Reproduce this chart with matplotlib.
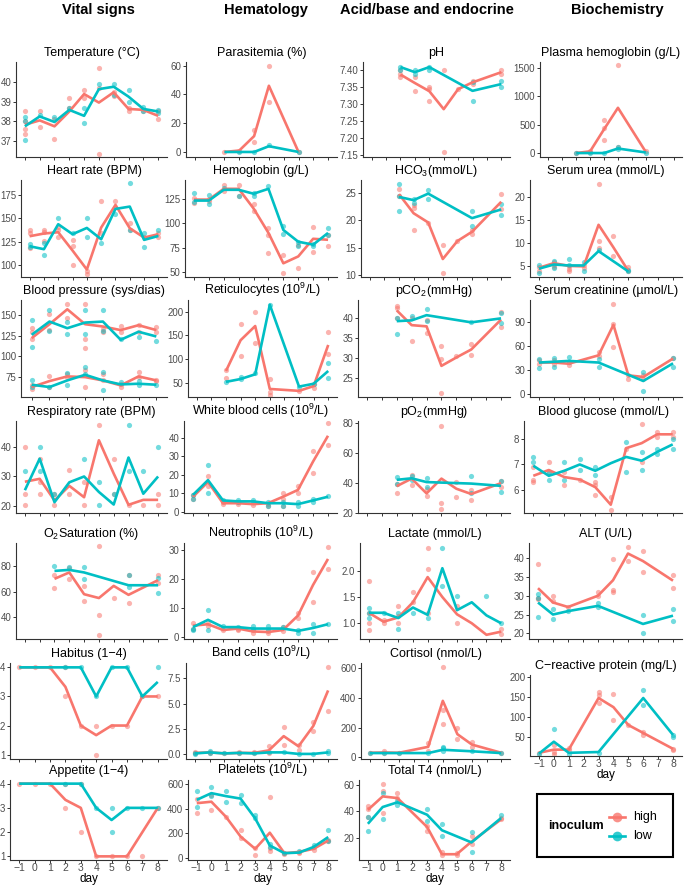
import matplotlib
matplotlib.use("Agg")
import matplotlib.pyplot as plt
from matplotlib.patches import Rectangle
from matplotlib.lines import Line2D

plt.rcParams['font.family'] = ['Liberation Sans', 'DejaVu Sans']
plt.rcParams['mathtext.fontset'] = 'custom'
plt.rcParams['mathtext.rm'] = 'Liberation Sans'
plt.rcParams['mathtext.it'] = 'Liberation Sans:italic'
plt.rcParams['mathtext.bf'] = 'Liberation Sans:bold'

RED = '#F8766D'
CYAN = '#00BFC4'
N = None

DAYS = [-1, 0, 1, 2, 3, 4, 5, 6, 7, 8]
BP_DAYS = [0, 1, 2, 3, 4, 5, 6, 7]

# ---------------- Vital signs ----------------
TEMP_HI = [37.83, 38.05, 37.75, 38.5, 39.38, 38.95, 39.47, 38.63, 38.58, 38.28]
TEMP_LO = [37.75, 38.25, 37.97, 38.58, 38.28, 39.63, 39.75, 39.25, 38.63, 38.5]
TEMP_HI_PTS = [(-1, 38.5), (-1, 38.03), (-1, 37.6), (-1, 37.37), (0, 38.5), (0, 37.7), (1, 38.1), (1, 37.1),
               (2, 39.17), (2, 38.7), (3, 39.6), (3, 39.17), (4, 40.7), (4, 39.7), (4, 36.37), (5, 39.5),
               (5, 39.3), (6, 38.7), (6, 38.5), (7, 38.5), (8, 38.5), (8, 38.1)]
TEMP_LO_PTS = [(-1, 38.2), (-1, 38.0), (-1, 37.08), (0, 38.3), (1, 38.2), (2, 38.7), (3, 38.7), (3, 37.9),
               (4, 39.9), (5, 39.9), (5, 39.33), (6, 39.6), (6, 39.0), (7, 38.75), (7, 38.5), (8, 38.6), (8, 38.4)]

HR_HI = [130.7, 133.6, 135, 115.4, 95, 140, 164.3, 139.3, 129.3, 132.9]
HR_LO = [120, 116.8, 143.6, 132.9, 139.6, 127.5, 160, 162.5, 126.8, 131]
HR_HI_PTS = [(-1, 137.5), (-1, 134), (-1, 118.6), (0, 137.5), (0, 135), (0, 126), (1, 141), (1, 137.5),
             (1, 130.4), (2, 126.8), (2, 120), (2, 100), (3, 92.9), (3, 90), (4, 168), (4, 134), (5, 168),
             (6, 144.6), (6, 137.5), (7, 130), (8, 129.6), (8, 134)]
HR_LO_PTS = [(-1, 122.5), (-1, 119), (0, 123), (0, 110.7), (1, 150), (2, 134), (3, 150), (3, 130.4),
             (4, 123), (5, 155), (6, 188), (6, 137.5), (7, 134), (7, 119), (8, 137.5)]

BP_SYS_HI = [122, 138.8, 156.8, 138.8, 136, 131.7, 137.6, 131.7]
BP_SYS_LO = [126, 142, 134, 140.8, 142, 120, 129.7, 124]
BP_DIA_HI = [63, 70.2, 75.8, 75, 71, 65, 75.8, 71]
BP_DIA_LO = [65.8, 63, 71, 77.8, 71, 66.2, 67, 65.8]
BP_HI_PTS = [(0, 133.7), (0, 129), (0, 121), (1, 150.8), (1, 131.7), (2, 162.7), (2, 146.8), (3, 162.7),
             (3, 121), (3, 110), (4, 132.9), (4, 129.7), (5, 136.9), (5, 129), (6, 137.6), (6, 129),
             (7, 134.9), (7, 129),
             (0, 61), (0, 65), (1, 75.8), (1, 63), (2, 79), (2, 75), (3, 83), (3, 63), (4, 79), (4, 71.8),
             (5, 67), (5, 63), (6, 81), (6, 75), (7, 71.8), (7, 69.8)]
BP_LO_PTS = [(0, 143.6), (0, 111.8), (1, 155.6), (1, 130.1), (2, 142), (2, 126.9), (3, 155.6), (3, 126.9),
             (4, 155.6), (4, 130.9), (5, 121), (6, 122.9), (7, 118.9),
             (0, 71), (0, 63), (1, 63), (2, 79.8), (2, 65), (3, 87.7), (3, 79), (4, 81), (4, 59.9),
             (5, 69), (6, 65), (6, 70.2), (7, 65)]

RESP_HI = [28.2, 29.2, 21.8, 26.8, 22.9, 42.4, 31, 20.3, 22, 22]
RESP_LO = [25.3, 36.1, 21.2, 28, 30, 24.7, 20.4, 36.5, 24.1, 30]
RESP_HI_PTS = [(-1, 40), (-1, 24.1), (-1, 20.4), (0, 36.1), (0, 28), (0, 24.1), (1, 20.4), (1, 24.1),
               (2, 32.2), (2, 24.1), (3, 28), (3, 20.4), (4, 47.6), (5, 36), (5, 24.1), (6, 20.4),
               (7, 20.4), (8, 24.1), (8, 20.4)]
RESP_LO_PTS = [(-1, 32), (0, 40), (0, 32), (1, 24.1), (3, 35.9), (4, 28), (4, 20.4), (5, 16.2), (5, 24.1),
               (6, 47.6), (6, 32), (7, 32), (7, 16.2), (8, 40)]

O2_HI = [N, N, 70, 75, 58, 55, 64.5, 57.5, N, 69]
O2_LO = [N, N, 76.2, 77, 75, N, N, 65, N, 65]
O2_HI_PTS = [(1, 72.7), (1, 62.6), (2, 78.5), (2, 70), (3, 64.5), (3, 53), (4, 96), (4, 42), (4, 26),
             (5, 55), (6, 72.7), (6, 51), (8, 73), (8, 67)]
O2_LO_PTS = [(1, 79.7), (2, 79), (3, 79), (3, 70), (6, 72.7), (6, 64), (8, 59), (8, 71)]

HAB_HI = [4, 4, 4, 3.33, 2, 1.67, 2, 2, 3, 3]
HAB_LO = [4, 4, 4, 4, 4, 3, 4, 4, 3, 3.5]
HAB_HI_PTS = [(-1, 4), (0, 4), (1, 4), (2, 4), (2, 3), (3, 2), (4, 2), (4, 1), (5, 2), (6, 2), (7, 3), (8, 3)]
HAB_LO_PTS = [(2, 4), (3, 4), (4, 3), (5, 4), (6, 4), (7, 3), (8, 4)]

APP_HI = [4, 4, 4, 3.33, 3, 1, 1, 1, 2, 3]
APP_LO = [4, 4, 4, 4, 4, 3, 2.5, 3, 3, 3]
APP_HI_PTS = [(-1, 4), (0, 4), (1, 4), (2, 4), (2, 3), (3, 2), (3, 4), (4, 1), (5, 1), (6, 1), (7, 1), (8, 3)]
APP_LO_PTS = [(2, 4), (3, 4), (4, 3), (5, 3), (5, 2), (6, 3), (7, 3), (8, 3)]

# ---------------- Hematology ----------------
PARA_HI = [N, N, 0, 1, 11, 46, N, 0, N, N]
PARA_LO = [N, N, 0, 0, 0, 4, N, 0, N, N]
PARA_HI_PTS = [(1, 0), (2, 0.5), (3, 15), (3, 7), (4, 60), (4, 35), (6, 0)]
PARA_LO_PTS = [(2, 0), (3, 0), (4, 4.5), (6, 0)]

HGB_HI = [124, 124, 135, 135, 115, 90, 59, 66, 84, 83]
HGB_LO = [123, 123, 134, 134, 130, 135, 93, 81, 78, 90]
HGB_HI_PTS = [(-1, 126), (-1, 121), (0, 125), (0, 123), (1, 139), (1, 133), (2, 139), (2, 128), (3, 120),
              (3, 112), (4, 95), (4, 88), (4, 70), (5, 67), (5, 49), (6, 54), (6, 78), (7, 96), (7, 71),
              (8, 88), (8, 77)]
HGB_LO_PTS = [(-1, 131), (-1, 122), (0, 129), (0, 120), (1, 136), (2, 128), (3, 128), (3, 131), (4, 138),
              (5, 97), (5, 89), (6, 81), (6, 77), (7, 79), (7, 77), (8, 95), (8, 88)]

RET_HI = [N, N, 75, 140, 170, 37, N, 33, 43, 130]
RET_LO = [N, N, 52, 58, 68, 215, N, 42, 48, 75]
RET_HI_PTS = [(1, 78), (1, 60), (2, 175), (2, 107), (3, 200), (3, 135), (4, 57), (4, 30), (4, 25), (6, 33),
              (7, 40), (7, 47), (8, 157), (8, 110)]
RET_LO_PTS = [(1, 52), (2, 62), (2, 57), (3, 70), (4, 215), (6, 42), (7, 48), (8, 92), (8, 60)]

WBC_HI = [8, 16, 4.5, 4.5, 4, 4.5, 8, 11.7, 27, 41]
WBC_LO = [9, 17, 6, 5.5, 5.5, 4.5, 4.5, 4, 6, 8]
WBC_HI_PTS = [(-1, 7), (-1, 9), (0, 19), (0, 14), (1, 4), (1, 5), (2, 5), (2, 4), (3, 3.5), (4, 4), (4, 3),
              (5, 10), (5, 7), (5, 3), (6, 14), (6, 10), (7, 33), (7, 21), (8, 48), (8, 36)]
WBC_LO_PTS = [(-1, 9), (-1, 7), (0, 25), (0, 10), (1, 6), (2, 6), (2, 5), (3, 6), (3, 5), (4, 5), (4, 3),
              (5, 5), (5, 3), (6, 5), (6, 3), (7, 7), (7, 5), (8, 8.5)]

NEU_HI = [4, 4.5, 2.5, 3, 2, 1.8, 2.5, 7.5, 18, 27]
NEU_LO = [3.5, 6, 3.5, 3.5, 3, 3, 3, 2.2, 3.2, 4.5]
NEU_HI_PTS = [(-1, 5), (-1, 3), (0, 5), (0, 4), (1, 2.5), (2, 3), (2, 2.5), (3, 2.5), (3, 1.5), (4, 2),
              (4, 1.5), (5, 3.5), (5, 2), (6, 8.5), (6, 6.5), (7, 22.5), (7, 12), (8, 31), (8, 23.5)]
NEU_LO_PTS = [(-1, 3), (-1, 2.5), (0, 9.5), (0, 2.5), (1, 4), (2, 3.5), (3, 4), (3, 3), (4, 4), (4, 2.5),
              (5, 3.5), (6, 2.5), (6, 1.5), (7, 4.5), (7, 1.5), (8, 4.5)]

BAND_HI = [0.15, 0.2, 0.1, 0.15, 0.15, 0.4, 1.8, 0.8, 2.8, 6.3]
BAND_LO = [0.1, 0.2, 0.1, 0.15, 0.1, 0.2, 0.2, 0.05, 0.05, 0.2]
BAND_HI_PTS = [(-1, 0.2), (-1, 0.1), (0, 0.25), (0, 0.15), (1, 0.1), (2, 0.2), (2, 0.1), (3, 0.2), (3, 0.1),
               (4, 0.8), (4, 0.1), (5, 2.7), (5, 0.9), (6, 0.9), (6, 0.4), (7, 3.2), (7, 2.3), (8, 8.6),
               (8, 4.3)]
BAND_LO_PTS = [(-1, 0.15), (-1, 0.05), (0, 0.3), (0, 0.1), (1, 0.1), (2, 0.15), (3, 0.1), (4, 0.2),
               (5, 0.25), (6, 0.05), (7, 0.05), (8, 0.3), (8, 0.1)]

PLT_HI = [443, 455, 333, 174, 75, 205, 40, 50, 75, 142]
PLT_LO = [470, 524, 500, 480, 320, 102, 40, 45, 90, 170]
PLT_HI_PTS = [(-1, 480), (-1, 365), (0, 510), (0, 385), (1, 330), (2, 230), (2, 160), (3, 80), (3, 25),
              (4, 495), (4, 80), (4, 55), (5, 30), (5, 40), (6, 50), (6, 40), (7, 90), (7, 65), (8, 150),
              (8, 135)]
PLT_LO_PTS = [(-1, 540), (-1, 410), (0, 575), (0, 505), (1, 540), (1, 450), (2, 510), (2, 445), (3, 350),
              (3, 320), (4, 110), (4, 90), (5, 45), (6, 55), (7, 105), (8, 225), (8, 140)]

# ---------------- Acid/base and endocrine ----------------
PH_HI = [N, N, 7.388, 7.363, 7.339, 7.286, 7.345, 7.365, N, 7.395]
PH_LO = [N, N, 7.41, 7.395, 7.41, N, N, 7.34, N, 7.36]
PH_HI_PTS = [(1, 7.40), (1, 7.39), (1, 7.38), (2, 7.38), (2, 7.34), (3, 7.35), (3, 7.345), (3, 7.31),
             (4, 7.40), (4, 7.16), (5, 7.345), (6, 7.37), (6, 7.36), (8, 7.40), (8, 7.39)]
PH_LO_PTS = [(1, 7.41), (1, 7.40), (2, 7.40), (2, 7.39), (3, 7.41), (3, 7.40), (6, 7.365), (6, 7.31),
             (8, 7.37), (8, 7.35)]

HCO3_HI = [N, N, 24.8, 21.3, 19.6, 12.9, 16.2, 17.9, N, 23.4]
HCO3_LO = [N, N, 24.3, 23.7, 24.9, N, N, 20.4, N, 22.0]
HCO3_HI_PTS = [(1, 25.8), (1, 24.5), (2, 22.9), (2, 22.3), (2, 18.2), (3, 19.5), (4, 15.4), (4, 10.4),
               (5, 16.2), (6, 18.3), (6, 17.4), (8, 24.9), (8, 22.1)]
HCO3_LO_PTS = [(1, 26.6), (1, 24.4), (1, 21.7), (2, 24.0), (2, 23.2), (3, 25.6), (3, 24.0), (6, 21.7),
               (6, 19.0), (8, 23.0), (8, 20.9)]

PCO2_HI = [N, N, 42, 38.3, 38, 28.1, 30.2, 32.2, N, 39.7]
PCO2_LO = [N, N, 39.3, 39.5, 40.8, N, N, 39, N, 40]
PCO2_HI_PTS = [(1, 43.2), (1, 42.5), (1, 40), (2, 40), (2, 34.3), (3, 39.6), (3, 36.4), (4, 33.1),
               (4, 29.8), (4, 21.2), (5, 30.5), (6, 33.5), (6, 30.7), (8, 41.7), (8, 37.8)]
PCO2_LO_PTS = [(1, 36), (1, 40), (2, 40.5), (3, 42.3), (3, 39.3), (6, 39), (8, 41.3), (8, 38.8)]

PO2_HI = [N, N, 37.8, 42.8, 33, 42.8, 36.1, 32.6, N, 39.8]
PO2_LO = [N, N, 42, 43, 40.5, N, N, 39.5, N, 38]
PO2_HI_PTS = [(1, 39.5), (1, 33.5), (2, 45), (2, 38.7), (3, 36), (3, 31.5), (4, 77.7), (4, 26.7),
              (4, 22.5), (5, 40.3), (5, 30.5), (6, 35), (6, 28.3), (8, 41.5), (8, 37.5)]
PO2_LO_PTS = [(1, 44), (1, 39), (2, 44.5), (2, 42), (3, 43), (3, 37.4), (6, 44.3), (6, 33), (8, 41), (8, 34)]

LAC_HI = [1.2, 1.03, 1.11, 1.4, 1.88, 1.5, 1.17, 1.0, 0.78, 0.84]
LAC_LO = [1.2, 1.2, 1.1, 1.3, 1.16, 2.05, 1.25, 1.4, 1.15, 1.0]
LAC_HI_PTS = [(-1, 1.81), (-1, 1.2), (-1, 1.0), (-1, 0.88), (0, 1.06), (0, 1.0), (1, 1.32), (1, 1.13),
              (1, 1.0), (2, 1.6), (2, 1.4), (3, 2.43), (3, 2.03), (3, 1.19), (5, 1.32), (5, 1.0), (8, 0.9),
              (8, 0.8)]
LAC_LO_PTS = [(-1, 1.3), (-1, 1.2), (-1, 1.1), (0, 1.19), (1, 1.2), (1, 0.9), (2, 1.2), (3, 1.1), (4, 2.43),
              (4, 1.71), (5, 1.52), (7, 1.52), (8, 1.0)]

COR_HI = [30, 32, 30, N, 70, 380, 155, 85, N, 30]
COR_LO = [28, 28, 28, N, 28, 50, N, 40, N, 28]
COR_HI_PTS = [(-1, 30), (0, 45), (0, 30), (1, 30), (3, 45), (3, 95), (4, 610), (4, 320), (4, 225),
              (5, 200), (5, 120), (6, 105), (6, 70), (8, 30)]
COR_LO_PTS = [(-1, 28), (0, 30), (1, 30), (3, 28), (4, 70), (4, 60), (4, 40), (6, 40), (8, 28)]

T4_HI = [41.2, 51.5, 50.2, N, 28.2, 7.4, 7.4, 17, N, 34]
T4_LO = [30.6, 43.4, 47, N, 37.5, 25.7, N, 16.4, N, 35]
T4_HI_PTS = [(-1, 44.5), (-1, 42), (-1, 36), (0, 61), (0, 55.5), (0, 38.5), (1, 54), (1, 50.5), (3, 29),
             (3, 25), (4, 9), (4, 6.5), (5, 8.5), (5, 6.5), (6, 21), (6, 15), (8, 35), (8, 34)]
T4_LO_PTS = [(-1, 36), (-1, 25), (0, 54), (0, 34), (1, 48), (1, 45), (3, 42), (3, 32.5), (4, 30.5),
             (4, 21.5), (6, 24.5), (6, 9), (8, 37)]

# ---------------- Biochemistry ----------------
PHB_HI = [N, N, 0, 30, 420, 800, N, 20, N, N]
PHB_LO = [N, N, 0, 0, 0, 80, N, 10, N, N]
PHB_HI_PTS = [(1, 0), (2, 30), (2, 20), (3, 580), (3, 450), (3, 230), (4, 1550), (4, 110), (6, 30)]
PHB_LO_PTS = [(1, 0), (2, 0), (3, 0), (4, 100), (4, 70), (6, 0)]

UREA_HI = [4.6, 5.6, 5.0, 4.9, 13.9, 9.0, 3.9, N, N, N]
UREA_LO = [4.4, 5.3, 5.1, 5.1, 8.2, N, 3.8, N, N, N]
UREA_HI_PTS = [(-1, 4.7), (-1, 4.0), (0, 5.8), (0, 5.3), (0, 4.8), (1, 5.0), (1, 4.3), (1, 3.8), (2, 5.2),
               (2, 4.5), (3, 22.7), (3, 10.3), (3, 8.8), (4, 11.5), (4, 7.1), (5, 4.8), (5, 3.8)]
UREA_LO_PTS = [(-1, 5.3), (-1, 3.4), (0, 6.0), (0, 4.5), (1, 6.5), (1, 5.3), (2, 5.8), (2, 4.0), (3, 8.5),
               (5, 3.9), (5, 4.2)]

CRE_HI = [39, 39, 37.5, N, 48, 86, 23, 21, N, 44]
CRE_LO = [39, 40, 41, N, 39, N, N, 16, N, 38]
CRE_HI_PTS = [(-1, 42), (-1, 37), (0, 42), (0, 37), (1, 40), (1, 36), (3, 52), (3, 47), (4, 112), (4, 87),
              (4, 58), (5, 24), (5, 18), (6, 23), (6, 19), (8, 45)]
CRE_LO_PTS = [(-1, 43), (-1, 32), (0, 45), (0, 33), (1, 46), (1, 40), (3, 44), (3, 34), (6, 27), (6, 3),
              (8, 45), (8, 33)]

GLU_HI = [6.55, 6.78, 6.5, 6.4, 6.1, 5.4, 7.65, 7.85, 8.2, 8.2]
GLU_LO = [6.95, 6.55, 6.75, 7.0, 6.75, 7.05, 7.3, 7.15, 7.5, 7.8]
GLU_HI_PTS = [(-1, 6.9), (-1, 6.4), (-1, 6.3), (0, 7.1), (0, 6.7), (1, 6.7), (1, 6.2), (2, 6.4), (3, 6.3),
              (3, 6.2), (3, 5.8), (4, 5.7), (4, 5.2), (5, 7.6), (6, 8.6), (6, 7.1), (7, 8.3), (7, 8.1),
              (8, 8.3), (8, 8.1)]
GLU_LO_PTS = [(-1, 7.3), (-1, 7.1), (0, 6.4), (0, 6.7), (1, 7.1), (1, 6.4), (2, 7.2), (2, 6.8), (3, 6.9),
              (3, 6.6), (5, 7.9), (5, 6.7), (6, 7.5), (6, 6.8), (7, 7.6), (7, 7.4), (8, 8.0), (8, 7.6)]

ALT_HI = [32, 28.2, 27, N, 30, 34.1, 41.2, 39.2, N, 34]
ALT_LO = [28.2, 25, 25.9, N, 27.3, N, N, 22.5, N, 24.7]
ALT_HI_PTS = [(-1, 38.3), (-1, 29.5), (-1, 29), (0, 30), (0, 28.5), (1, 27), (3, 31), (3, 30), (4, 39.7),
              (4, 31.5), (4, 31), (5, 43), (5, 39.3), (6, 42), (6, 36.3), (8, 35.5), (8, 32)]
ALT_LO_PTS = [(-1, 30.5), (-1, 29.5), (-1, 24.3), (0, 26.5), (0, 23.8), (1, 26), (3, 28), (3, 27),
              (6, 25), (6, 20), (8, 26.5), (8, 23.3)]

CRP_HI = [10, 18, 18, N, 148, 125, 80, 60, N, 20]
CRP_LO = [8, 38, 10, N, 12, N, N, 148, N, 55]
CRP_HI_PTS = [(-1, 10), (0, 30), (0, 12), (0, 8), (1, 22), (1, 18), (3, 162), (3, 155), (3, 135), (4, 158),
              (4, 92), (5, 80), (6, 62), (6, 55), (8, 20), (8, 17)]
CRP_LO_PTS = [(-1, 8), (0, 70), (1, 8), (3, 10), (6, 167), (6, 130), (8, 55), (8, 50)]

COLUMN_HEADERS = ["Vital signs", "Hematology", "Acid/base and endocrine", "Biochemistry"]
X_TICK_LABELS = ["\u22121", "0", "1", "2", "3", "4", "5", "6", "7", "8"]

# ---------------- layout (pixels) ----------------
W, H = 685, 889
fig = plt.figure(figsize=(W / 100, H / 100), dpi=100)

COL_RIGHT = [167, 337, 510, 682]
ROW_TOP = [62, 180, 300, 421, 543, 663, 780]
ROW_BOT = [157, 277, 397, 513, 639, 759, 860]


def add_ax(left, top, right, bottom):
    return fig.add_axes([left / W, 1 - bottom / H, (right - left) / W, (bottom - top) / H])


def series(days, vals):
    xs = [d for d, v in zip(days, vals) if v is not None]
    ys = [v for v in vals if v is not None]
    return xs, ys


def draw_panel(ax, title, lines_hi, lines_lo, pts_hi, pts_lo, yticks, ylabels, ylim,
               days=DAYS, xlim=(-1.6, 8.6), xlabels=False):
    for pts, col in ((pts_hi, RED), (pts_lo, CYAN)):
        ax.scatter([p[0] for p in pts], [p[1] for p in pts], s=14, color=col, alpha=0.55,
                   linewidths=0, zorder=2)
    for lines, col in ((lines_hi, RED), (lines_lo, CYAN)):
        for vals in lines:
            xs, ys = series(days, vals)
            ax.plot(xs, ys, color=col, lw=1.9, solid_capstyle='butt', zorder=3)
    ax.set_xlim(*xlim)
    ax.set_ylim(*ylim)
    ax.set_xticks(days)
    ax.set_yticks(yticks)
    ax.set_yticklabels(ylabels)
    if xlabels:
        ax.set_xticklabels(X_TICK_LABELS)
        ax.set_xlabel('day', fontsize=8.5, labelpad=0)
    else:
        ax.set_xticklabels([])
    for s in ('top', 'right'):
        ax.spines[s].set_visible(False)
    for s in ('left', 'bottom'):
        ax.spines[s].set_color('#333333')
        ax.spines[s].set_linewidth(0.8)
    ax.tick_params(axis='y', length=2.2, width=0.7, color='#333333', labelsize=7,
                   labelcolor='#4D4D4D', pad=1.2)
    ax.tick_params(axis='x', length=2.0, width=0.7, color='#333333', labelsize=7.5,
                   labelcolor='#4D4D4D', pad=0.5)
    ax.set_title(title, fontsize=9, pad=4)


def ticks(vals, fmt="{:g}"):
    return vals, [fmt.format(v) for v in vals]


panels = [
    # col 0
    (0, 0, 16, "Temperature (\u00b0C)", [TEMP_HI], [TEMP_LO], TEMP_HI_PTS, TEMP_LO_PTS, ticks([37, 38, 39, 40]), (36.2, 41.0)),
    (0, 1, 21, "Heart rate (BPM)", [HR_HI], [HR_LO], HR_HI_PTS, HR_LO_PTS, ticks([100, 125, 150, 175]), (87, 191)),
    (0, 2, 21, "Blood pressure (sys/dias)", [BP_SYS_HI, BP_DIA_HI], [BP_SYS_LO, BP_DIA_LO], BP_HI_PTS, BP_LO_PTS, ticks([75, 100, 125, 150]), (51, 168)),
    (0, 3, 16, "Respiratory rate (BPM)", [RESP_HI], [RESP_LO], RESP_HI_PTS, RESP_LO_PTS, ticks([20, 30, 40]), (17.5, 49)),
    (0, 4, 16, "O$_\\mathregular{2}$Saturation (%)", [O2_HI], [O2_LO], O2_HI_PTS, O2_LO_PTS, ticks([40, 60, 80]), (23, 98)),
    (0, 5, 10, "Habitus (1\u22124)", [HAB_HI], [HAB_LO], HAB_HI_PTS, HAB_LO_PTS, ticks([1, 2, 3, 4]), (0.85, 4.15)),
    (0, 6, 10, "Appetite (1\u22124)", [APP_HI], [APP_LO], APP_HI_PTS, APP_LO_PTS, ticks([1, 2, 3, 4]), (0.85, 4.15)),
    # col 1
    (1, 0, 186, "Parasitemia (%)", [PARA_HI], [PARA_LO], PARA_HI_PTS, PARA_LO_PTS, ticks([0, 20, 40, 60]), (-3.5, 62.5)),
    (1, 1, 185, "Hemoglobin (g/L)", [HGB_HI], [HGB_LO], HGB_HI_PTS, HGB_LO_PTS, ticks([50, 75, 100, 125]), (45, 144)),
    (1, 2, 188, "Reticulocytes (10$^\\mathregular{9}$/L)", [RET_HI], [RET_LO], RET_HI_PTS, RET_LO_PTS, ticks([50, 100, 150, 200]), (20, 225)),
    (1, 3, 184, "White blood cells (10$^\\mathregular{9}$/L)", [WBC_HI], [WBC_LO], WBC_HI_PTS, WBC_LO_PTS, ticks([0, 10, 20, 30, 40]), (-0.8, 49)),
    (1, 4, 184, "Neutrophils (10$^\\mathregular{9}$/L)", [NEU_HI], [NEU_LO], NEU_HI_PTS, NEU_LO_PTS, ticks([0, 10, 20, 30]), (-0.6, 32.5)),
    (1, 5, 186, "Band cells (10$^\\mathregular{9}$/L)", [BAND_HI], [BAND_LO], BAND_HI_PTS, BAND_LO_PTS, ticks([0, 2.5, 5.0, 7.5], "{:.1f}"), (-0.45, 9.0)),
    (1, 6, 188, "Platelets (10$^\\mathregular{9}$/L)", [PLT_HI], [PLT_LO], PLT_HI_PTS, PLT_LO_PTS, ticks([0, 200, 400, 600]), (-15, 630)),
    # col 2
    (2, 0, 363, "pH", [PH_HI], [PH_LO], PH_HI_PTS, PH_LO_PTS, ticks([7.15, 7.20, 7.25, 7.30, 7.35, 7.40], "{:.2f}"), (7.145, 7.425)),
    (2, 1, 361, "HCO$_\\mathregular{3}$(mmol/L)", [HCO3_HI], [HCO3_LO], HCO3_HI_PTS, HCO3_LO_PTS, ticks([10, 15, 20, 25]), (9.6, 27.4)),
    (2, 2, 358, "pCO$_\\mathregular{2}$(mmHg)", [PCO2_HI], [PCO2_LO], PCO2_HI_PTS, PCO2_LO_PTS, ticks([25, 30, 35, 40]), (20.3, 44.6)),
    (2, 3, 358, "pO$_\\mathregular{2}$(mmHg)", [PO2_HI], [PO2_LO], PO2_HI_PTS, PO2_LO_PTS, ticks([20, 40, 60, 80]), (20, 81)),
    (2, 4, 360, "Lactate (mmol/L)", [LAC_HI], [LAC_LO], LAC_HI_PTS, LAC_LO_PTS, ticks([1.0, 1.5, 2.0], "{:.1f}"), (0.7, 2.53)),
    (2, 5, 361, "Cortisol (nmol/L)", [COR_HI], [COR_LO], COR_HI_PTS, COR_LO_PTS, ticks([0, 200, 400, 600]), (-12, 635)),
    (2, 6, 359, "Total T4 (nmol/L)", [T4_HI], [T4_LO], T4_HI_PTS, T4_LO_PTS, ticks([20, 40, 60]), (3, 64)),
    # col 3
    (3, 0, 540, "Plasma hemoglobin (g/L)", [PHB_HI], [PHB_LO], PHB_HI_PTS, PHB_LO_PTS, ticks([0, 500, 1000, 1500]), (-70, 1610)),
    (3, 1, 530, "Serum urea (mmol/L)", [UREA_HI], [UREA_LO], UREA_HI_PTS, UREA_LO_PTS, ticks([5, 10, 15, 20]), (2.6, 23.6)),
    (3, 2, 530, "Serum creatinine (\u00b5mol/L)", [CRE_HI], [CRE_LO], CRE_HI_PTS, CRE_LO_PTS, ticks([0, 30, 60, 90]), (-4, 117)),
    (3, 3, 524, "Blood glucose (mmol/L)", [GLU_HI], [GLU_LO], GLU_HI_PTS, GLU_LO_PTS, ticks([6, 7, 8]), (5.07, 8.73)),
    (3, 4, 529, "ALT (U/L)", [ALT_HI], [ALT_LO], ALT_HI_PTS, ALT_LO_PTS, ticks([20, 25, 30, 35, 40]), (18.5, 44)),
    (3, 5, 530, "C\u2212reactive protein (mg/L)", [CRP_HI], [CRP_LO], CRP_HI_PTS, CRP_LO_PTS, ticks([50, 100, 150, 200]), (2, 206)),
]

for col, row, left, title, lh, ll, ph, pl, (yt, yl), ylim in panels:
    top, bot = ROW_TOP[row], ROW_BOT[row]
    if col == 3 and row == 5:
        top, bot = 675, 756
    ax = add_ax(left, top, COL_RIGHT[col], bot)
    bottom_panel = (row == 6) or (col == 3 and row == 5)
    if title.startswith("Blood pressure"):
        draw_panel(ax, title, lh, ll, ph, pl, yt, yl, ylim, days=BP_DAYS, xlim=(-0.6, 7.6))
    else:
        draw_panel(ax, title, lh, ll, ph, pl, yt, yl, ylim, xlabels=bottom_panel)

# column headers
for x, txt in zip([98, 266, 427, 617], COLUMN_HEADERS):
    fig.text(x / W, 1 - 10 / H, txt, ha='center', va='center', fontsize=10.5, fontweight='bold')

# legend
lax = fig.add_axes([0, 0, 1, 1], zorder=10)
lax.set_xlim(0, W)
lax.set_ylim(H, 0)
lax.axis('off')
lax.add_patch(Rectangle((537, 794), 136, 63, fill=False, edgecolor='black', lw=1.5))
lax.text(548, 826, "inoculum", fontsize=9, fontweight='bold', va='center', ha='left')
for yy, col, lab in ((817, RED, "high"), (836, CYAN, "low")):
    lax.add_line(Line2D([609, 625], [yy, yy], color=col, lw=1.9))
    lax.add_line(Line2D([617], [yy], color=col, marker='o', ms=7, alpha=0.8, markeredgewidth=0))
    lax.text(633, yy, lab, fontsize=9, va='center', ha='left')

fig.savefig("out.png", dpi=100)
